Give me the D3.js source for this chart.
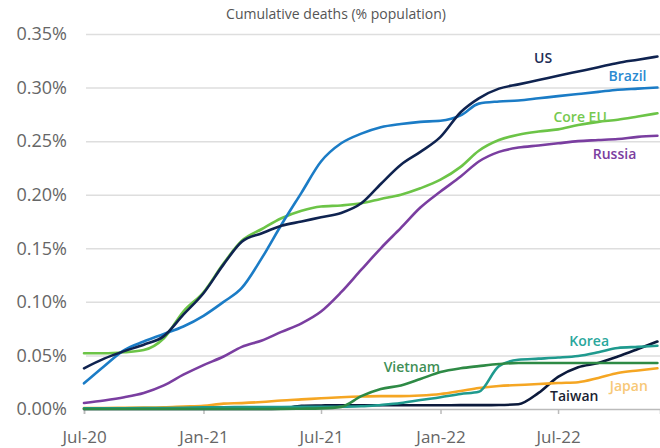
<!DOCTYPE html>
<html>
<head>
<meta charset="utf-8">
<script src="https://cdn.jsdelivr.net/npm/d3@7"></script>
<style>
  html, body { margin: 0; padding: 0; background: #fff; }
  svg { display: block; font-family: "Open Sans", sans-serif; }
</style>
</head>
<body>
<svg id="chart" width="660" height="448"></svg>
<script>
const months = ["2020-07","2020-08","2020-09","2020-10","2020-11","2020-12",
  "2021-01","2021-02","2021-03","2021-04","2021-05","2021-06",
  "2021-07","2021-08","2021-09","2021-10","2021-11","2021-12",
  "2022-01","2022-02","2022-03","2022-04","2022-05","2022-06",
  "2022-07","2022-08","2022-09","2022-10","2022-11","2022-12"];

const us      = [0.038,0.047,0.054,0.060,0.068,0.088,0.108,0.135,0.156,0.164,0.171,0.175,0.179,0.183,0.192,0.210,0.228,0.240,0.254,0.277,0.290,0.299,0.303,0.307,0.311,0.315,0.319,0.323,0.326,0.329];
const brazil  = [0.024,0.040,0.055,0.063,0.070,0.077,0.087,0.100,0.113,0.141,0.172,0.202,0.231,0.248,0.257,0.263,0.266,0.268,0.269,0.274,0.285,0.287,0.288,0.290,0.292,0.294,0.296,0.298,0.299,0.300];
const coreEU  = [0.052,0.052,0.053,0.055,0.066,0.091,0.109,0.136,0.157,0.168,0.178,0.185,0.189,0.190,0.192,0.196,0.200,0.206,0.214,0.226,0.241,0.251,0.256,0.259,0.261,0.265,0.268,0.270,0.273,0.276];
const russia  = [0.0056,0.008,0.011,0.015,0.022,0.032,0.041,0.049,0.058,0.064,0.072,0.080,0.091,0.109,0.130,0.150,0.169,0.188,0.203,0.217,0.231,0.240,0.244,0.246,0.248,0.250,0.251,0.252,0.254,0.255];
const korea   = [0.0006,0.0006,0.0007,0.0008,0.0009,0.0012,0.0015,0.0017,0.0018,0.0018,0.0019,0.0020,0.0020,0.0022,0.0025,0.0038,0.0056,0.0084,0.011,0.014,0.016,0.040,0.046,0.047,0.048,0.0495,0.053,0.057,0.058,0.059];
const vietnam = [0,0,0,0,0,0,0,0,0,0,0.0001,0.0003,0.0006,0.002,0.012,0.0187,0.022,0.028,0.0345,0.038,0.040,0.042,0.043,0.043,0.043,0.043,0.043,0.043,0.043,0.043];
const japan   = [0.0008,0.0009,0.0012,0.0013,0.0016,0.0023,0.003,0.005,0.0055,0.0065,0.008,0.009,0.010,0.011,0.0117,0.012,0.012,0.0126,0.014,0.0168,0.0196,0.0215,0.0224,0.0233,0.0243,0.025,0.029,0.0336,0.036,0.038];
const taiwan  = [0,0,0,0,0,0,0,0,0,0,0.0003,0.003,0.0033,0.0035,0.0035,0.0035,0.0035,0.0035,0.0035,0.0036,0.0036,0.0037,0.0045,0.015,0.030,0.039,0.043,0.049,0.056,0.063];

const seriesNames  = ["Taiwan","Japan","Korea","Vietnam","Russia","Core EU","Brazil","US"];
const seriesValues = [taiwan, japan, korea, vietnam, russia, coreEU, brazil, us];
const seriesColors = ["#0c1a3c","#f5a623","#1f9a8e","#2e8a45","#7a3ea0","#6cc447","#1b7cc6","#0f2350"];
const labelColors  = ["#1a1f33","#f7c877","#2aa79c","#3f8f56","#7a3ea0","#76c94f","#2b8ad2","#1d2d55"];
const labelDates   = ["2022-07-26","2022-10-18","2022-08-18","2021-11-18","2022-09-26","2022-08-04","2022-10-16","2022-06-08"];
const labelValues  = [0.0112,0.0205,0.0625,0.038,0.237,0.2716,0.310,0.3267];

const yTicks = [0, 0.05, 0.10, 0.15, 0.20, 0.25, 0.30, 0.35];
const xTicks = ["2020-07","2021-01","2021-07","2022-01","2022-07"];
const title = "Cumulative deaths (% population)";

const parseM = d3.timeParse("%Y-%m");
const parseD = d3.timeParse("%Y-%m-%d");
const svg = d3.select("#chart");

const x = d3.scaleTime()
  .domain([new Date(2020, 6, 1), new Date(2022, 11, 5)])
  .range([84, 660]);
const y = d3.scaleLinear().domain([0, 0.35]).range([409, 34]);

// title
svg.append("text")
  .attr("x", 336).attr("y", 19)
  .attr("text-anchor", "middle")
  .attr("font-size", 14)
  .attr("fill", "#555")
  .text(title);

// y axis with gridlines
const yAxis = svg.append("g")
  .attr("transform", "translate(86,0)")
  .call(d3.axisLeft(y).tickValues(yTicks).tickSize(-(660 - 86)).tickPadding(19)
    .tickFormat(d => d.toFixed(2) + "%"));
yAxis.select(".domain").remove();
yAxis.selectAll(".tick line").attr("stroke", "#dedede").attr("stroke-width", 1.5);
yAxis.selectAll(".tick text").attr("font-size", 18).attr("fill", "#666")
  .attr("font-family", "Open Sans, sans-serif");
yAxis.selectAll(".tick").filter(d => d === 0).select("line").remove();

// x axis
const xAxis = svg.append("g")
  .attr("transform", "translate(0,409)")
  .call(d3.axisBottom(x).tickValues(xTicks.map(parseM)).tickSize(5).tickPadding(17)
    .tickFormat(d3.timeFormat("%b-%y")));
xAxis.select(".domain").attr("stroke", "#bbb").attr("stroke-width", 1.5);
xAxis.selectAll(".tick line").attr("stroke", "#bbb").attr("stroke-width", 1.5);
xAxis.selectAll(".tick text").attr("font-size", 17).attr("fill", "#666")
  .attr("font-family", "Open Sans, sans-serif");

// lines
const line = d3.line()
  .x((d, i) => x(parseM(months[i])))
  .y(d => y(d))
  .curve(d3.curveMonotoneX);

seriesValues.forEach((vals, k) => {
  svg.append("path")
    .datum(vals)
    .attr("fill", "none")
    .attr("stroke", seriesColors[k])
    .attr("stroke-width", 2.6)
    .attr("stroke-linejoin", "round")
    .attr("stroke-linecap", "round")
    .attr("d", line);
});

// labels
seriesNames.forEach((name, k) => {
  svg.append("text")
    .attr("x", x(parseD(labelDates[k])))
    .attr("y", y(labelValues[k]))
    .attr("text-anchor", "middle")
    .attr("dominant-baseline", "middle")
    .attr("font-size", 14)
    .attr("font-weight", 600)
    .attr("fill", labelColors[k])
    .text(name);
});
</script>
</body>
</html>
